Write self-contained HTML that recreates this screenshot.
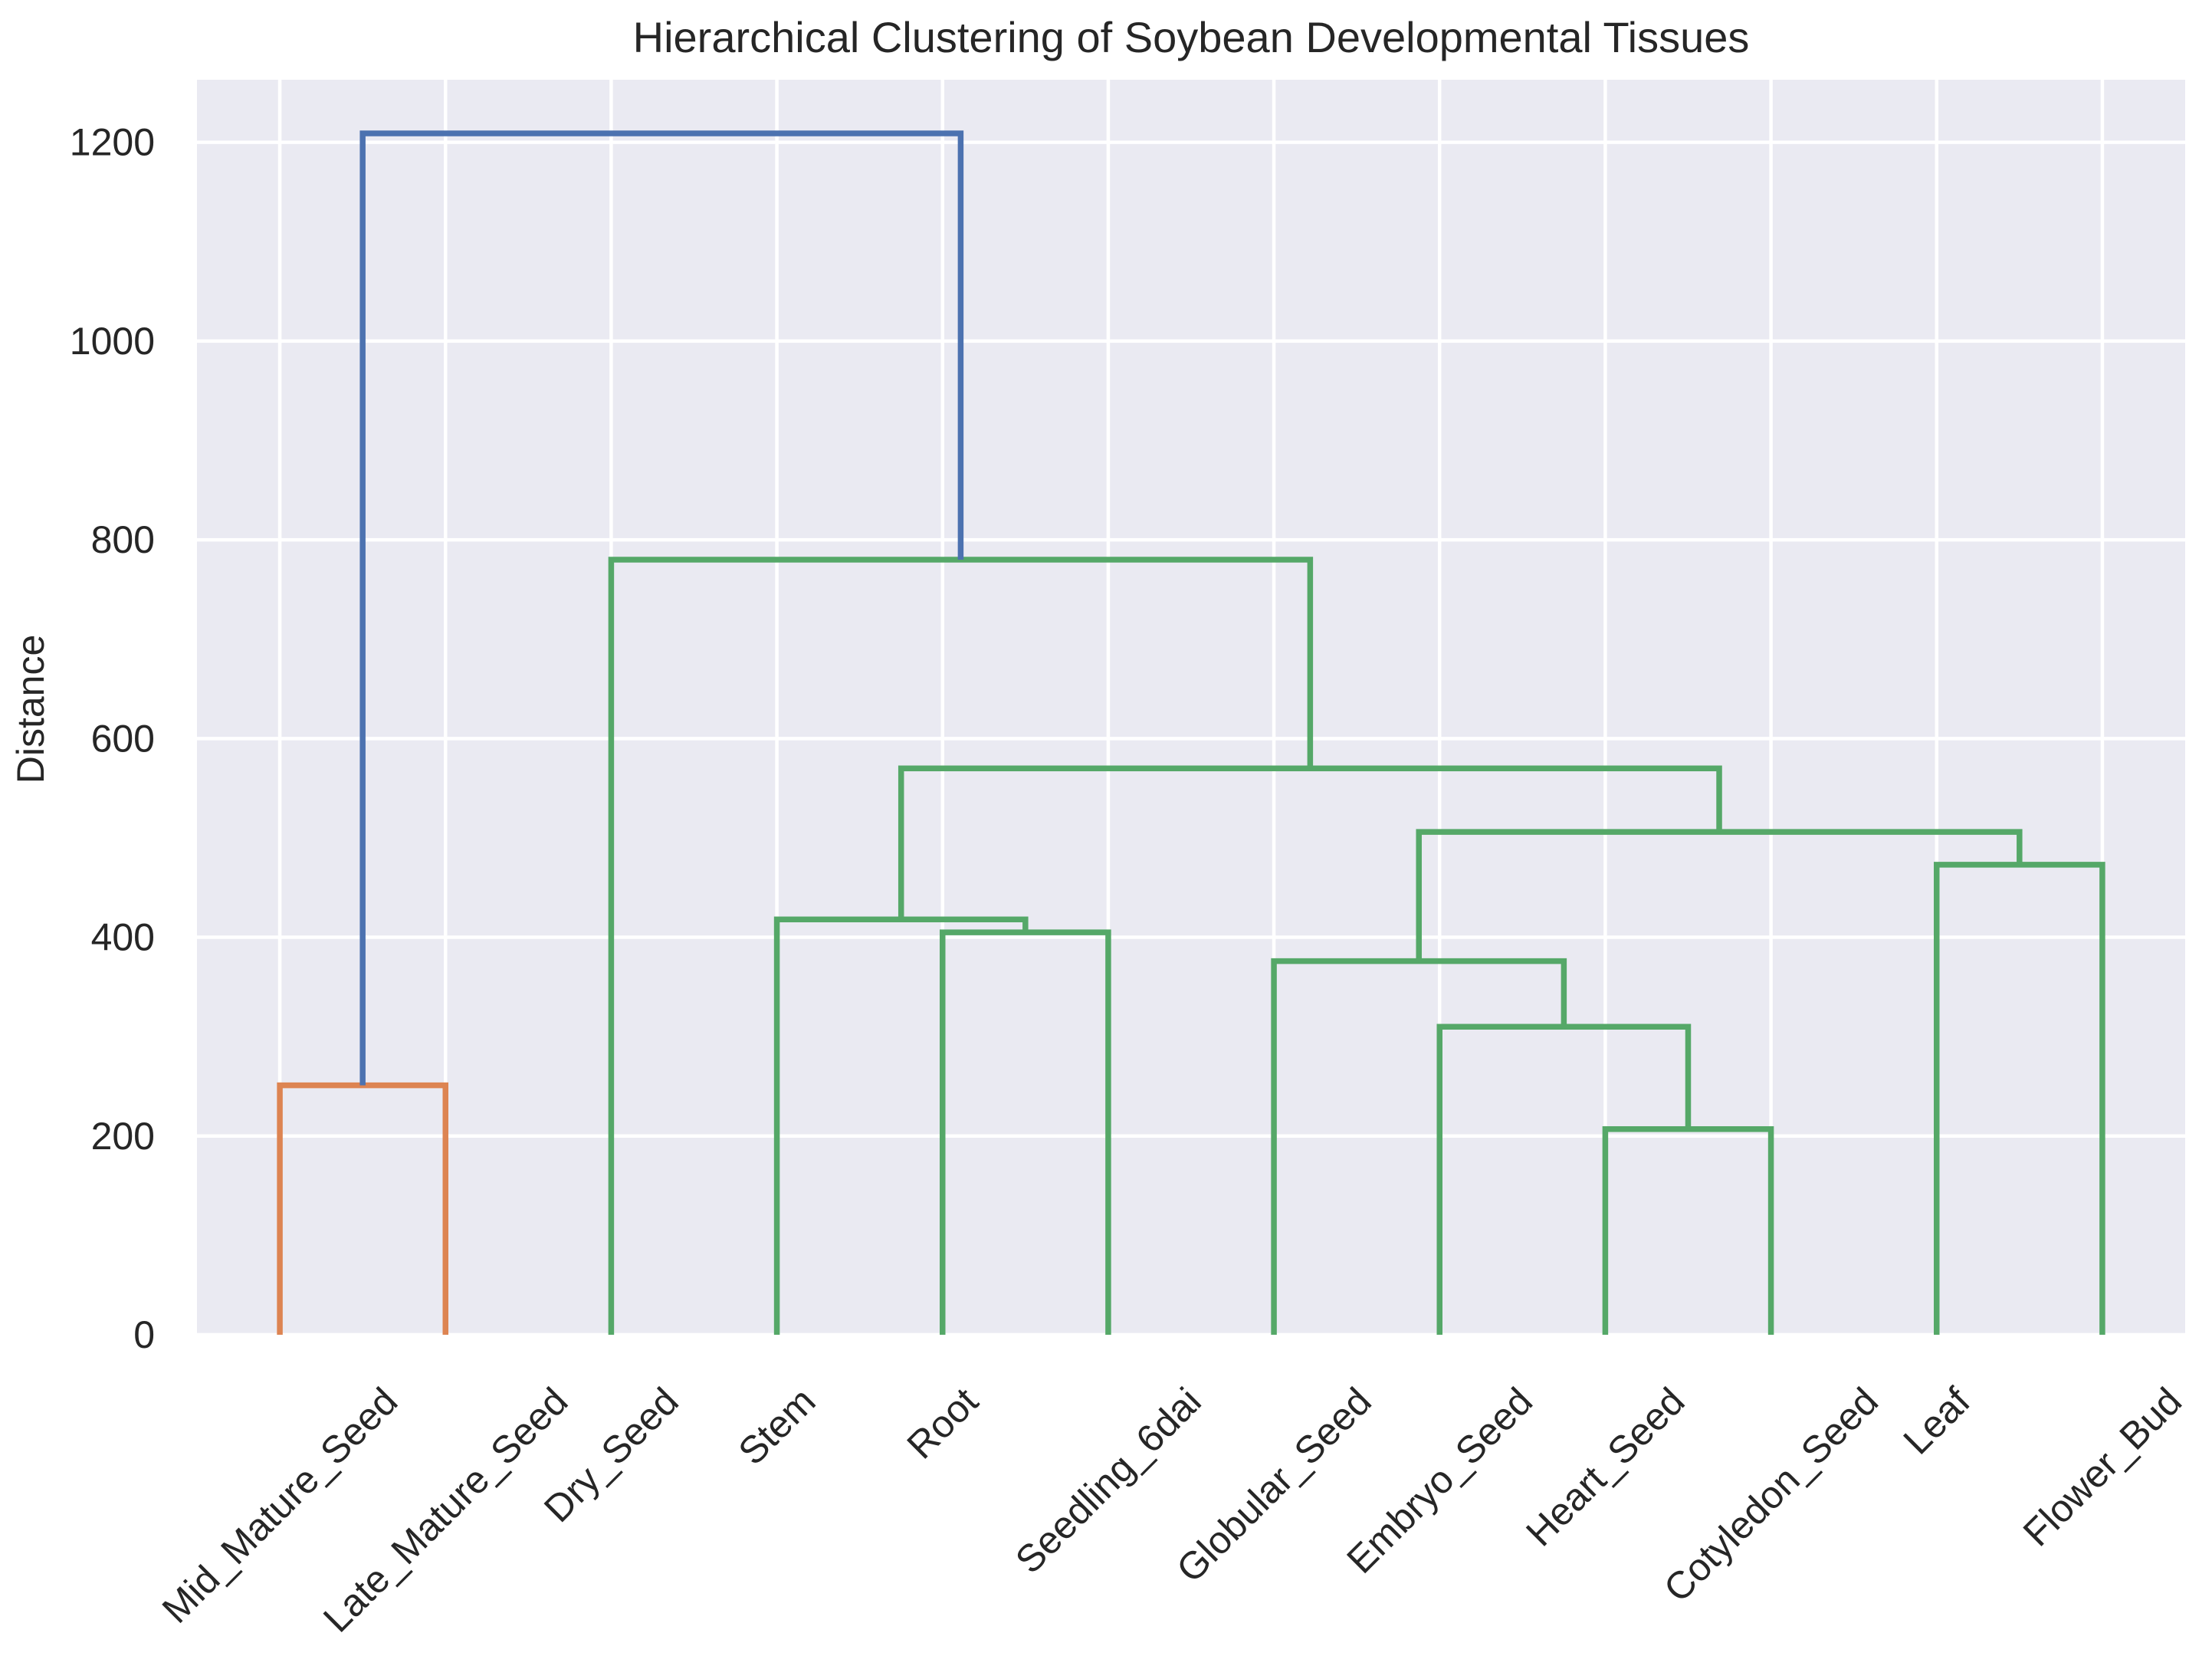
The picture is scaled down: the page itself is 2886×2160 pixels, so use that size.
<!DOCTYPE html>
<html><head><meta charset="utf-8"><style>
html,body{margin:0;padding:0;background:#fff;}
svg{display:block;font-family:"Liberation Sans",Arial,sans-serif;}
</style></head><body>
<svg id="chart" width="2886" height="2160" viewBox="0 0 2886 2160">
  <rect x="0" y="0" width="2886" height="2160" fill="#ffffff"/>
  <text x="1554" y="68" font-size="56" text-anchor="middle" fill="#262626">Hierarchical Clustering of Soybean Developmental Tissues</text>
  <text transform="translate(57,925) rotate(-90)" font-size="50" text-anchor="middle" fill="#262626">Distance</text>
  <g id="plot"></g>
</svg>
<script>
const leaves = ["Mid_Mature_Seed","Late_Mature_Seed","Dry_Seed","Stem","Root","Seedling_6dai","Globular_Seed","Embryo_Seed","Heart_Seed","Cotyledon_Seed","Leaf","Flower_Bud"];
// merges: [left, right, height]; indices < 12 are leaves, >=12 are earlier merges
const mergeLeft  = [0, 4, 3, 8, 7, 6, 10, 17, 14, 2, 12];
const mergeRight = [1, 5, 13, 9, 15, 16, 11, 18, 19, 20, 21];
const mergeHeight = [251, 405, 418, 207, 310, 376, 473, 506, 570, 780, 1209];
const mergeColor = ["orange","green","green","green","green","green","green","green","green","green","blue"];
const yTicks = [0, 200, 400, 600, 800, 1000, 1200];

const L = 257, R = 2851, T = 104, B = 1741;
const yMax = 1263;
const colors = {orange:"#dd8452", green:"#55a868", blue:"#4c72b0"};
const NS = "http://www.w3.org/2000/svg";
function xs(u){ return L + u/120*(R-L); }
function ys(v){ return B - v/yMax*(B-T); }
const g = document.getElementById('plot');
function mk(tag, attrs){ const e=document.createElementNS(NS,tag); for(const k in attrs) e.setAttribute(k,attrs[k]); g.appendChild(e); return e; }

const bg = mk('rect',{x:L,y:T,width:R-L,height:B-T,fill:'#eaeaf2'});



yTicks.forEach(v=>{
  const ln = mk('line',{x1:L,x2:R,y1:ys(v),y2:ys(v),stroke:'#fff','stroke-width':4.5});
  
  
  const t = mk('text',{x:202,y:ys(v),'font-size':50,'text-anchor':'end','dominant-baseline':'central',fill:'#262626'});
  t.textContent = v;
  
  
});
leaves.forEach((n,i)=>{
  const x = xs(5+10*i);
  const ln = mk('line',{x1:x,x2:x,y1:T,y2:B,stroke:'#fff','stroke-width':4.5});
  
  
});

const pos = leaves.map((n,i)=>5+10*i);
const hts = leaves.map(()=>0);
mergeHeight.forEach((h,k)=>{
  const a = mergeLeft[k], b = mergeRight[k];
  const xa = pos[a], xb = pos[b];
  const p = mk('path',{d:`M${xs(xa)},${ys(hts[a])} L${xs(xa)},${ys(h)} L${xs(xb)},${ys(h)} L${xs(xb)},${ys(hts[b])}`,fill:'none',stroke:colors[mergeColor[k]],'stroke-width':7.5});
  
  
  pos.push((xa+xb)/2);
  hts.push(h);
});

leaves.forEach((n,i)=>{
  const x = xs(5+10*i);
  const t = mk('text',{'font-size':50,'text-anchor':'middle','dominant-baseline':'central',fill:'#262626'});
  t.textContent = n;
  
  
  const len = t.getComputedTextLength();
  const h = (len + 54) * 0.7071;
  const cy = 1800 + h/2;
  t.setAttribute('transform',`translate(${x},${cy}) rotate(-45)`);
});
</script>
</body></html>
